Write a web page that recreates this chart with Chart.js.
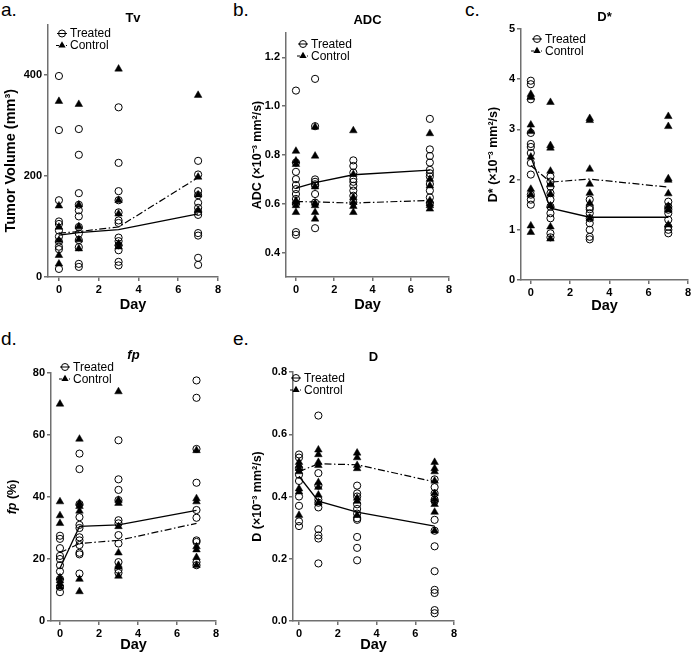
<!DOCTYPE html>
<html><head><meta charset="utf-8">
<script src="https://cdn.jsdelivr.net/npm/chart.js@4/dist/chart.umd.min.js"></script>
<style>
body{margin:0;background:#fff;width:693px;height:653px;position:relative;overflow:hidden;font-family:'Liberation Sans',Arial,sans-serif}
canvas{position:absolute}
.lbl{position:absolute;font-size:19px;line-height:19px;color:#000}
</style></head><body>
<div class="lbl" style="left:1px;top:0">a.</div>
<div class="lbl" style="left:233px;top:0">b.</div>
<div class="lbl" style="left:465px;top:0">c.</div>
<div class="lbl" style="left:1px;top:329px">d.</div>
<div class="lbl" style="left:233px;top:329px">e.</div>
<canvas id="cA" width="231" height="320" style="left:0;top:0"></canvas>
<canvas id="cB" width="231" height="320" style="left:231px;top:0"></canvas>
<canvas id="cC" width="231" height="320" style="left:462px;top:0"></canvas>
<canvas id="cD" width="231" height="323" style="left:0;top:330px"></canvas>
<canvas id="cE" width="231" height="323" style="left:231px;top:330px"></canvas>
<script>
// ---------- data ----------
const days = [0, 1, 3, 7];
const xTicks = [0, 2, 4, 6, 8];
const legendLabels = ['Treated', 'Control'];

// a. Tv (mm^3)
const tvTreated = [
  [398, 291, 152, 110, 105, 92, 80, 70, 60, 55, 16],
  [293, 242, 166, 143, 132, 120, 99, 86, 73, 59, 26, 20],
  [336, 226, 170, 152, 128, 112, 107, 78, 71, 63, 53, 30, 23],
  [230, 203, 170, 162, 147, 137, 129, 123, 87, 82, 38, 24]
];
const tvControl = [
  [348, 141, 99, 73, 43, 26],
  [342, 143, 100, 74, 56],
  [412, 152, 125, 66, 60],
  [360, 198, 163, 132]
];
const tvTreatedMean = [83, 88, 94, 125];
const tvControlMean = [87, 90, 99, 197];
const tvTicks = [0, 200, 400];

// b. ADC
const adcTreated = [
  [1.064, 0.769, 0.731, 0.701, 0.677, 0.66, 0.64, 0.62, 0.60, 0.484, 0.473],
  [1.112, 0.918, 0.70, 0.69, 0.68, 0.675, 0.64, 0.605, 0.50],
  [0.778, 0.755, 0.728, 0.701, 0.69, 0.674, 0.654, 0.633, 0.606],
  [0.948, 0.823, 0.796, 0.769, 0.739, 0.725, 0.712, 0.681, 0.654, 0.626, 0.603]
];
const adcControl = [
  [0.816, 0.776, 0.762, 0.613, 0.606, 0.593, 0.565],
  [0.915, 0.796, 0.67, 0.603, 0.593, 0.565, 0.538],
  [0.90, 0.721, 0.626, 0.606, 0.59, 0.565],
  [0.888, 0.701, 0.674, 0.613, 0.60, 0.593, 0.579]
];
const adcTreatedMean = [0.664, 0.687, 0.719, 0.738];
const adcControlMean = [0.609, 0.608, 0.603, 0.614];
const adcTicks = [0.4, 0.6, 0.8, 1.0, 1.2];

// c. D*
const dstarTreated = [
  [3.97, 3.90, 3.60, 2.93, 2.71, 2.65, 2.53, 2.33, 2.10, 1.70, 1.60, 1.50],
  [2.06, 1.96, 1.86, 1.73, 1.60, 1.46, 1.33, 1.23, 0.93, 0.85],
  [1.60, 1.45, 1.41, 1.33, 1.23, 1.13, 1.00, 0.86, 0.81],
  [1.56, 1.46, 1.40, 1.33, 1.20, 1.06, 1.00, 0.93]
];
const dstarControl = [
  [3.70, 3.64, 3.09, 2.96, 2.45, 1.81, 1.70, 1.08, 0.95],
  [3.54, 2.68, 2.63, 2.17, 1.90, 1.71, 1.48, 1.06, 0.82],
  [3.22, 3.18, 2.21, 1.91, 1.73, 1.53, 1.23],
  [3.26, 3.06, 2.02, 1.99, 1.72, 1.47, 1.40, 1.10]
];
const dstarTreatedMean = [2.45, 1.43, 1.25, 1.25];
const dstarControlMean = [2.28, 1.95, 2.01, 1.85];
const dstarTicks = [0, 1, 2, 3, 4, 5];

// d. fp (%)
const fpTreated = [
  [27.5, 26.5, 23.5, 21, 20, 18, 16, 13.5, 11, 9.3],
  [54, 49, 37.7, 33.5, 31, 30, 27, 26, 24.5, 22, 21.5, 15.3],
  [58.3, 45.7, 42.3, 39, 32.5, 31.5, 27.7, 25, 19, 16.5, 15.5],
  [77.6, 72, 55.5, 44.6, 35.8, 33.3, 26, 25.5, 19, 18]
];
const fpControl = [
  [70, 38.5, 34, 31.5, 14, 13, 12, 11],
  [58.7, 38, 37, 35.5, 13.5, 9.5],
  [74, 39, 38, 30.5, 22, 18, 17.5, 14.5],
  [55, 39.5, 38.5, 24, 23, 20.5, 18]
];
const fpTreatedMean = [17, 30.5, 31, 35.7];
const fpControlMean = [22, 25, 26, 31.5];
const fpTicks = [0, 20, 40, 60, 80];

// e. D
const dTreated = [
  [0.535, 0.525, 0.49, 0.47, 0.45, 0.40, 0.37, 0.32, 0.305],
  [0.66, 0.475, 0.435, 0.39, 0.38, 0.365, 0.295, 0.275, 0.265, 0.185],
  [0.435, 0.41, 0.40, 0.375, 0.36, 0.345, 0.33, 0.325, 0.27, 0.235, 0.195],
  [0.455, 0.43, 0.41, 0.39, 0.385, 0.325, 0.29, 0.24, 0.16, 0.10, 0.09, 0.035, 0.025]
];
const dControl = [
  [0.51, 0.50, 0.49, 0.48, 0.425, 0.415, 0.34],
  [0.55, 0.535, 0.51, 0.50, 0.445, 0.43, 0.405, 0.38],
  [0.54, 0.525, 0.50, 0.49, 0.395, 0.385, 0.34],
  [0.51, 0.49, 0.48, 0.45, 0.41, 0.39, 0.375, 0.35, 0.29]
];
const dTreatedMean = [0.465, 0.385, 0.35, 0.305];
const dControlMean = [0.48, 0.505, 0.502, 0.447];
const dTicks = [0, 0.2, 0.4, 0.6, 0.8];

// ---------- rendering ----------
const FONT = "'Liberation Sans', Arial, sans-serif";
Chart.defaults.font.family = FONT;
Chart.defaults.color = '#000';
const AXIS = '#707070';

function pts(groups) {
  const out = [];
  groups.forEach((g, i) => g.forEach(v => out.push({x: days[i], y: v})));
  return out;
}
function meanPts(m) { return m.map((v, i) => ({x: days[i], y: v})); }

const legendPlugin = {
  id: 'customLegend',
  afterDraw(chart, args, o) {
    const ctx = chart.ctx, a = chart.chartArea;
    const x = a.left + o.dx, y = a.top + o.dy, y2 = y + o.gap;
    ctx.save();
    ctx.strokeStyle = '#000'; ctx.fillStyle = '#000'; ctx.lineWidth = 1;
    ctx.beginPath(); ctx.moveTo(x - 5, y); ctx.lineTo(x + 5, y); ctx.stroke();
    ctx.beginPath(); ctx.arc(x, y, 3.5, 0, Math.PI * 2); ctx.stroke();
    ctx.beginPath(); ctx.moveTo(x - 6, y2); ctx.lineTo(x - 3, y2); ctx.stroke();
    ctx.beginPath(); ctx.moveTo(x + 4, y2); ctx.lineTo(x + 5, y2); ctx.stroke();
    const r = 4.2;
    ctx.beginPath();
    ctx.moveTo(x, y2 - r);
    ctx.lineTo(x + r * 0.866, y2 + r * 0.5);
    ctx.lineTo(x - r * 0.866, y2 + r * 0.5);
    ctx.closePath(); ctx.fill();
    ctx.font = '12px ' + FONT;
    ctx.textBaseline = 'middle'; ctx.textAlign = 'left';
    ctx.fillText(legendLabels[0], x + 8, y + 0.5);
    ctx.fillText(legendLabels[1], x + 8, y2 + 0.5);
    ctx.restore();
  }
};

const yTitlePlugin = {
  id: 'partsTitle',
  afterDraw(chart, args, o) {
    if (!o.parts) return;
    const ctx = chart.ctx, a = chart.chartArea;
    const size = o.size || 12.5;
    ctx.save();
    ctx.translate(o.x, (a.top + a.bottom) / 2 + (o.dy || 0));
    ctx.rotate(-Math.PI / 2);
    ctx.textBaseline = 'middle';
    ctx.fillStyle = '#000';
    let total = 0;
    o.parts.forEach(p => { ctx.font = (p.italic ? 'italic ' : '') + 'bold ' + size + 'px ' + FONT; total += ctx.measureText(p.text).width; });
    let cx = -total / 2;
    o.parts.forEach(p => {
      ctx.font = (p.italic ? 'italic ' : '') + 'bold ' + size + 'px ' + FONT;
      ctx.textAlign = 'left';
      ctx.fillText(p.text, cx, 0);
      cx += ctx.measureText(p.text).width;
    });
    ctx.restore();
  }
};

function makeChart(id, c) {
  new Chart(document.getElementById(id), {
    type: 'scatter',
    data: {
      datasets: [
        {data: pts(c.treated), pointStyle: 'circle', pointRadius: 3.6, borderColor: '#000', backgroundColor: 'rgba(0,0,0,0)', pointBorderWidth: 1, showLine: false},
        {data: pts(c.control), pointStyle: 'triangle', pointRadius: 4.4, borderColor: '#000', backgroundColor: '#000', pointBorderWidth: 0.5, showLine: false},
        {data: meanPts(c.tMean), showLine: true, pointRadius: 0, borderColor: '#000', borderWidth: 1.3, fill: false},
        {data: meanPts(c.cMean), showLine: true, pointRadius: 0, borderColor: '#000', borderWidth: 1.2, borderDash: [7, 2.5, 1.5, 2.5], fill: false}
      ]
    },
    options: {
      responsive: false, animation: false, events: [],
      layout: {padding: {left: 0, right: c.padRight, top: 0, bottom: 0}},
      plugins: {
        legend: {display: false}, tooltip: {enabled: false},
        title: {display: true, text: c.title, fullSize: false, color: '#000',
          font: {size: 13, weight: 'bold', style: c.titleItalic ? 'italic' : 'normal', lineHeight: 1},
          padding: {top: c.tTop, bottom: c.tBottom}},
        customLegend: {dx: c.lgx, dy: c.lgy, gap: 12},
        partsTitle: {parts: c.yParts, x: c.yPartsX, dy: c.yPartsDy, size: c.yPartsSize}
      },
      scales: {
        x: {
          type: 'linear', min: c.xMin, max: 8,
          afterBuildTicks: s => { s.ticks = xTicks.map(v => ({value: v})); },
          afterFit: s => { s.height = c.xHeight; },
          grid: {display: true, drawOnChartArea: false, drawTicks: true, tickLength: 4, color: AXIS, lineWidth: 1.5},
          border: {display: true, color: AXIS, width: 1.5},
          ticks: {color: '#000', font: {size: 11, weight: 'bold'}, padding: 2, maxRotation: 0, callback: v => String(v)},
          title: {display: true, text: 'Day', color: '#000', font: {size: 14.5, weight: 'bold', lineHeight: 1}, padding: {top: 0, bottom: c.dayPad}}
        },
        y: {
          type: 'linear', min: c.yMin, max: c.yMax,
          afterBuildTicks: s => { s.ticks = c.yTicks.map(v => ({value: v})); },
          afterFit: s => { s.width = c.yWidth; },
          grid: {display: true, drawOnChartArea: false, drawTicks: true, tickLength: 4, color: AXIS, lineWidth: 1.5},
          border: {display: true, color: AXIS, width: 1.5},
          ticks: {color: '#000', font: {size: 11, weight: 'bold'}, padding: 2, callback: v => Number(v).toFixed(c.dec)},
          title: {display: !c.yParts, text: c.yTitle || '', color: '#000', font: {size: 12.5, weight: 'bold', lineHeight: 1}, padding: {top: c.yTitlePad, bottom: 0}}
        }
      }
    },
    plugins: [legendPlugin, yTitlePlugin]
  });
}

makeChart('cA', {
  treated: tvTreated, control: tvControl, tMean: tvTreatedMean, cMean: tvControlMean,
  title: 'Tv', tTop: 11.5, tBottom: 0,
  yParts: [{text: 'Tumor Volume (mm³)', italic: false}], yPartsX: 10.5, yPartsDy: 10, yPartsSize: 14.5,
  yMin: 0, yMax: 500, yTicks: tvTicks, dec: 0, xMin: -0.55,
  yWidth: 48, xHeight: 43, padRight: 13, dayPad: 7.5, lgx: 14, lgy: 9
});
makeChart('cB', {
  treated: adcTreated, control: adcControl, tMean: adcTreatedMean, cMean: adcControlMean,
  title: 'ADC', tTop: 13.5, tBottom: 6.5, yTitle: 'ADC (×10⁻³ mm²/s)', yTitlePad: 20.5,
  yMin: 0.3, yMax: 1.3, yTicks: adcTicks, dec: 1, xMin: -0.52,
  yWidth: 55, xHeight: 43, padRight: 13, dayPad: 8, lgx: 17, lgy: 11
});
makeChart('cC', {
  treated: dstarTreated, control: dstarControl, tMean: dstarTreatedMean, cMean: dstarControlMean,
  title: 'D*', tTop: 10.5, tBottom: 5.5, yTitle: 'D* (×10⁻³ mm²/s)', yTitlePad: 25.5,
  yMin: 0, yMax: 5, yTicks: dstarTicks, dec: 0, xMin: -0.5,
  yWidth: 59, xHeight: 40, padRight: 3, dayPad: 7, lgx: 16, lgy: 10
});
makeChart('cD', {
  treated: fpTreated, control: fpControl, tMean: fpTreatedMean, cMean: fpControlMean,
  title: 'fp', titleItalic: true, tTop: 18.5, tBottom: 11.5,
  yParts: [{text: 'fp', italic: true}, {text: ' (%)', italic: false}], yPartsX: 13,
  yMin: 0, yMax: 80, yTicks: fpTicks, dec: 0, xMin: -0.46,
  yWidth: 51, xHeight: 32, padRight: 15, dayPad: 0.5, lgx: 14, lgy: -6
});
makeChart('cE', {
  treated: dTreated, control: dControl, tMean: dTreatedMean, cMean: dControlMean,
  title: 'D', tTop: 20.5, tBottom: 8.5, yTitle: 'D (×10⁻³ mm²/s)', yTitlePad: 20.25,
  yMin: 0, yMax: 0.8, yTicks: dTicks, dec: 1, xMin: -0.31,
  yWidth: 62, xHeight: 32, padRight: 8, dayPad: 0.5, lgx: 3, lgy: 6
});
</script>
</body></html>
